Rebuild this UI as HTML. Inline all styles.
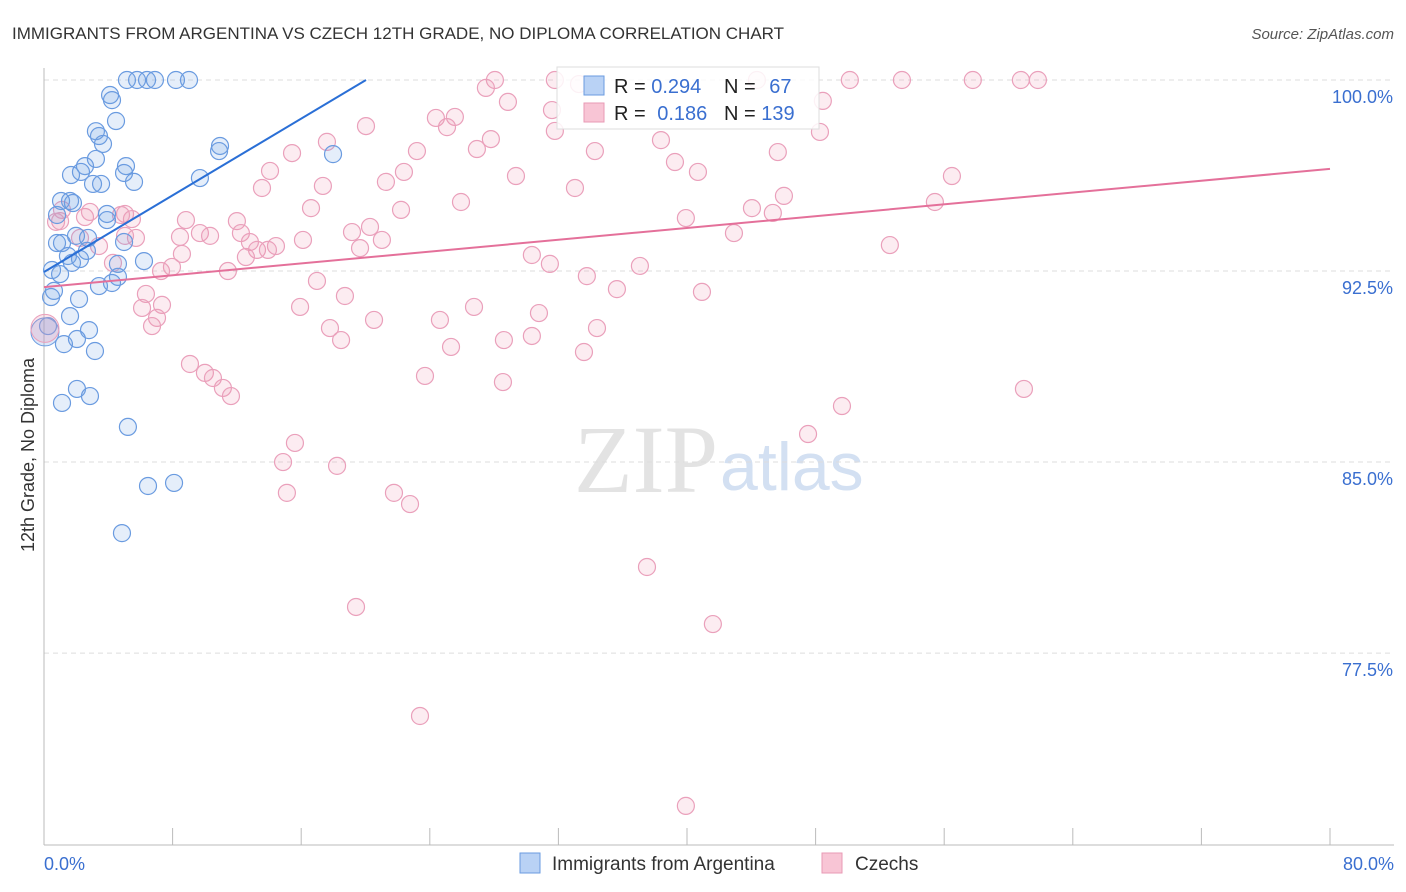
<!DOCTYPE html>
<html><head><meta charset="utf-8">
<style>
body{margin:0;background:#fff;font-family:"Liberation Sans",sans-serif;}
#wrap{position:relative;width:1406px;height:892px;overflow:hidden;}
</style></head>
<body>
<div id="wrap">
<svg id="chart" width="1406" height="892" style="position:absolute;left:0;top:0">
<text x="12" y="39" font-size="17" fill="#333">IMMIGRANTS FROM ARGENTINA VS CZECH 12TH GRADE, NO DIPLOMA CORRELATION CHART</text>
<text x="1394" y="39" font-size="15" fill="#555" font-style="italic" text-anchor="end">Source: ZipAtlas.com</text>
<text x="718" y="492" font-size="96" fill="#e3e3e3" text-anchor="end" font-family="Liberation Serif,serif">ZIP</text>
<text x="720" y="490" font-size="68" fill="#d3e0f2">atlas</text>
<text transform="translate(34,455) rotate(-90)" font-size="18" fill="#333" text-anchor="middle">12th Grade, No Diploma</text>
<g id="grid"></g>
<g id="pts"></g>
<g id="trend"></g>
<rect x="557" y="67" width="262" height="62" fill="#fff" fill-opacity="0.85" stroke="#ddd"/>
<rect x="584" y="76" width="20" height="19" fill="#b9d2f5" stroke="#6a9be0"/>
<rect x="584" y="103" width="20" height="19" fill="#f8c5d5" stroke="#e89ab5"/>
<text x="614" y="93" font-size="20" fill="#222">R = <tspan fill="#3a6fd0">0.294</tspan></text>
<text x="724" y="93" font-size="20" fill="#222">N = <tspan fill="#3a6fd0" dx="8">67</tspan></text>
<text x="614" y="120" font-size="20" fill="#222">R = <tspan fill="#3a6fd0" dx="6">0.186</tspan></text>
<text x="724" y="120" font-size="20" fill="#222">N = <tspan fill="#3a6fd0">139</tspan></text>
<rect x="520" y="853" width="20" height="20" fill="#b9d2f5" stroke="#6a9be0"/>
<text x="552" y="870" font-size="19" fill="#333">Immigrants from Argentina</text>
<rect x="822" y="853" width="20" height="20" fill="#f8c5d5" stroke="#e89ab5"/>
<text x="855" y="870" font-size="19" fill="#333">Czechs</text>
</svg>
</div>
<script>
const blueX=[5.16,5.79,6.41,6.90,8.21,9.02,4.11,4.23,4.48,3.23,3.42,3.67,10.95,10.89,17.98,3.23,2.55,5.10,1.68,2.30,3.05,3.55,5.60,9.70,1.06,1.62,1.80,0.81,3.92,3.92,0.81,1.12,1.99,2.74,4.98,2.67,1.49,2.24,1.74,4.60,6.22,0.50,1.00,4.60,4.23,3.42,0.62,0.44,2.18,1.62,0.25,2.80,1.24,2.05,3.17,2.05,2.86,1.12,5.22,6.47,8.09,4.85,4.98];
const blueY=[100,100,100,100,100,100,99.41,99.21,98.39,97.99,97.80,97.49,97.41,97.21,97.09,96.90,96.62,96.62,96.27,96.39,95.92,95.92,96.00,96.15,95.25,95.25,95.17,94.70,94.74,94.50,93.60,93.60,93.88,93.80,93.64,93.29,93.09,92.97,92.82,92.78,92.89,92.54,92.38,92.27,92.03,91.91,91.72,91.48,91.40,90.73,90.34,90.18,89.63,89.83,89.36,87.87,87.59,87.32,86.38,84.06,84.18,82.21,96.35];
const pinkX=[28.05,27.49,28.86,31.78,33.28,44.35,50.13,53.37,57.78,60.77,61.83,48.45,48.27,45.65,38.38,34.27,31.78,31.60,24.38,25.56,25.07,27.80,26.93,23.20,20.03,17.60,15.43,14.06,13.56,17.35,21.27,22.39,29.36,33.03,39.25,40.68,44.04,46.03,45.34,39.93,42.92,52.62,55.42,56.48,25.94,22.21,16.61,12.00,8.83,8.46,9.70,10.33,12.25,12.81,13.25,14.43,16.11,19.16,20.28,21.02,19.66,12.56,13.93,30.35,31.47,33.77,35.64,37.07,40.93,11.44,7.96,7.28,8.58,5.72,5.04,5.04,5.47,3.42,4.29,1.00,1.12,2.55,2.86,4.79,2.24,16.98,18.72,15.93,20.53,17.79,18.48,24.63,26.75,30.79,34.40,28.61,30.35,25.32,33.59,6.34,7.34,7.03,6.72,6.10,9.08,10.01,10.51,11.13,11.63,23.70,28.55,49.64,60.96,47.53,15.61,14.87,18.23,15.11,21.77,22.77,37.51,19.41,41.61,23.39,39.93,0.75];
const pinkY=[100,99.69,99.14,100,99.84,100,100,100,100,100,100,99.18,97.96,97.17,97.64,97.21,98.00,98.82,98.51,98.55,98.15,97.68,97.29,97.21,98.19,97.57,97.13,96.43,95.76,95.84,96.00,96.39,96.23,95.76,96.78,96.39,94.97,95.45,94.78,94.58,93.99,93.52,95.21,96.23,95.21,94.90,94.97,94.46,94.50,93.84,93.99,93.88,93.99,93.64,93.33,93.48,93.72,94.03,94.23,93.72,93.40,93.05,93.33,93.13,92.78,92.30,91.79,92.70,91.68,92.50,92.66,92.50,93.17,93.80,93.88,94.74,94.54,93.48,92.82,94.46,94.90,94.62,94.82,94.70,93.80,92.11,91.52,91.09,90.58,90.26,89.79,90.58,91.09,90.85,90.26,89.79,89.95,89.52,89.32,91.60,91.17,90.66,90.34,91.05,88.85,88.50,88.30,87.91,87.59,88.38,88.14,87.20,87.87,86.10,85.75,85.00,84.85,83.79,83.79,83.35,80.88,79.31,78.64,75.03,71.50,94.43];
const bigX=[0.06,0.06];
const bigY=[90.11,90.25];
const blueTrendX=[0,20.03];
const blueTrendY=[92.46,100];
const pinkTrendX=[0,80];
const pinkTrendY=[91.87,96.51];
const yTicks=[100,92.5,85,77.5];
const yTickLabels=["100.0%","92.5%","85.0%","77.5%"];
const xTicks=[0,8,16,24,32,40,48,56,64,72,80];

const NS="http://www.w3.org/2000/svg";
function sx(v){return 44+v*16.075;}
function sy(v){return 80+(100-v)*25.47;}
function mk(tag,attrs,parent){const e=document.createElementNS(NS,tag);for(const k in attrs)e.setAttribute(k,attrs[k]);parent.appendChild(e);return e;}
const grid=document.getElementById('grid'),pts=document.getElementById('pts'),tr=document.getElementById('trend');
yTicks.forEach((t,i)=>{
  const l=mk('line',{x1:44,x2:1394,y1:sy(t),y2:sy(t),stroke:'#ddd','stroke-dasharray':'5,4'},grid);
  
  
  const tx=mk('text',{x:1393,y:sy(t)+23,'font-size':18,fill:'#3a6fd0','text-anchor':'end'},grid);
  tx.textContent=yTickLabels[i];
  
  
});
const ax=mk('line',{x1:44,x2:44,y1:68,y2:845,stroke:'#bbb'},grid);


const bx=mk('line',{x1:44,x2:1394,y1:845,y2:845,stroke:'#bbb'},grid);


xTicks.forEach(t=>{
  const l=mk('line',{x1:sx(t),x2:sx(t),y1:828,y2:845,stroke:'#bbb'},grid);
  
  
});
const xl0=mk('text',{x:44,y:870,'font-size':18,fill:'#3a6fd0'},grid);xl0.textContent="0.0%";


const xl1=mk('text',{x:1394,y:870,'font-size':18,fill:'#3a6fd0','text-anchor':'end'},grid);xl1.textContent="80.0%";


pinkX.forEach((x,i)=>{
  const c=mk('circle',{cx:sx(x),cy:sy(pinkY[i]),r:8.5,fill:'rgba(240,150,180,0.18)',stroke:'#eaa0bb','stroke-width':1.2},pts);
  
  
});
blueX.forEach((x,i)=>{
  const c=mk('circle',{cx:sx(x),cy:sy(blueY[i]),r:8.5,fill:'rgba(110,160,230,0.18)',stroke:'#6a9be0','stroke-width':1.2},pts);
  
  
});
bigX.forEach((x,i)=>{
  const c=mk('circle',{cx:sx(x),cy:sy(bigY[i]),r:14,fill:i?'rgba(240,150,180,0.25)':'rgba(110,160,230,0.25)',stroke:i?'#eaa0bb':'#6a9be0'},pts);
  
  
});
const bl=mk('line',{x1:sx(blueTrendX[0]),y1:sy(blueTrendY[0]),x2:sx(blueTrendX[1]),y2:sy(blueTrendY[1]),stroke:'#2a6fd6','stroke-width':2},tr);


const pl=mk('line',{x1:sx(pinkTrendX[0]),y1:sy(pinkTrendY[0]),x2:sx(pinkTrendX[1]),y2:sy(pinkTrendY[1]),stroke:'#e4709a','stroke-width':2},tr);


</script>
</body></html>
